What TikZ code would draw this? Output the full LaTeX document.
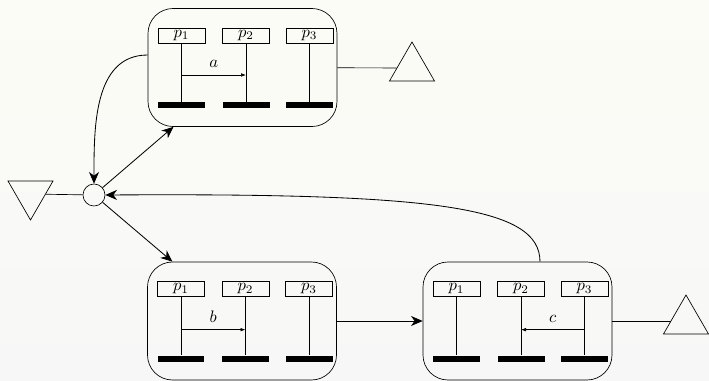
\documentclass[tikz,border=0pt]{standalone}
\usetikzlibrary{calc,arrows.meta,shapes.geometric}

\tikzset{
  module/.style={draw, rounded corners=15pt, minimum width=113.4pt,
    minimum height=70.8pt, inner sep=0pt},
  pbox/.style={draw, minimum width=28.2pt, minimum height=9pt, inner sep=0pt},
  bar/.style={fill=black, minimum width=28.2pt, minimum height=3.6pt, inner sep=0pt},
  lane/.style={line width=0.4pt},
  msg/.style={line width=0.4pt, -{Latex[length=3pt,width=2.2pt]}},
  conn/.style={line width=0.5pt, -{Stealth[length=7pt,width=6pt,inset=2.2pt]}},
  hubnode/.style={draw, circle, minimum size=13.2pt, inner sep=0pt},
  tri/.style={draw, regular polygon, regular polygon sides=3,
    minimum size=31.2pt, inner sep=0pt},
}

% a process module: three lanes p_1..p_3, each with a header box and a bar
\newcommand{\lanegroup}[2]{%
  \node[module] (#1) at (#2) {};
  \foreach \i/\dx in {1/-61,2/3.5,3/67}{
    \node[pbox] (#1-p\i) at ($(#1)+(\dx,-32)$) {$p_{\i}$};
    \node[bar]  (#1-b\i) at ($(#1)+(\dx,37.5)$) {};
    \draw[lane] (#1-p\i.south) -- (#1-b\i.north);
  }%
}

\begin{document}
\begin{tikzpicture}[x=0.6pt,y=-0.6pt]
  % backdrop
  \shade[top color={rgb,255:red,252;green,252;blue,246},
         bottom color={rgb,255:red,247;green,247;blue,247}]
    (0,0) rectangle (709,381);
  \useasboundingbox (0,0) rectangle (709,381);

  % modules
  \lanegroup{top}{242.5,67.5}
  \lanegroup{bl}{242,321}
  \lanegroup{br}{517.5,321}

  % messages inside the modules
  \draw[msg] ($(top-p1)!0.568!(top-b1)$) -- ($(top-p2)!0.568!(top-b2)$)
    node[midway,above=1pt] {$a$};
  \draw[msg] ($(bl-p1)!0.585!(bl-b1)$) -- ($(bl-p2)!0.585!(bl-b2)$)
    node[midway,above=1pt] {$b$};
  \draw[msg] ($(br-p3)!0.585!(br-b3)$) -- ($(br-p2)!0.585!(br-b2)$)
    node[midway,above=1pt] {$c$};

  % hub and terminals
  \node[hubnode] (hub) at (94,195) {};
  \node[tri, shape border rotate=180] (src) at (30.5,194) {};
  \node[tri] (sinkA) at (412,68) {};
  \node[tri] (sinkB) at (686,321) {};

  % connections
  \draw (src) -- (hub);
  \draw (top) -- (sinkA);
  \draw (br) -- (sinkB);
  \draw[conn] ($(top.west)+(0,-12.5)$) to[out=180,in=90] (hub.north);
  \draw[conn] (hub) -- (top);
  \draw[conn] (hub) -- (bl);
  \draw[conn] (bl) -- (br);
  \draw[conn] ($(br.north)+(22.5,0)$) .. controls ($(br.north)+(22.5,-55)$)
    and ($(hub.east)+(330,-2)$) .. (hub.east);
\end{tikzpicture}
\end{document}
